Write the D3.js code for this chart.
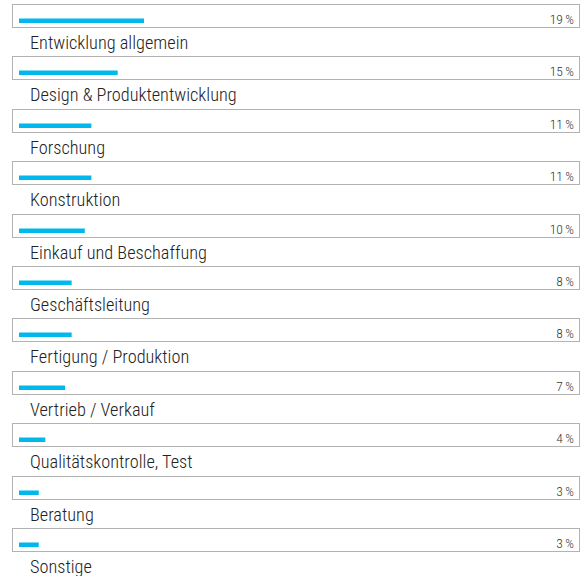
<!DOCTYPE html>
<html lang="de">
<head>
<meta charset="utf-8">
<title>Bereiche</title>
<script src="https://cdn.jsdelivr.net/npm/d3@7"></script>
<style>
  body { margin: 0; background: #fff; }
  text { font-family: "Roboto Condensed", Roboto, sans-serif; }
</style>
</head>
<body>
<script>
// data
var categories = ["Entwicklung allgemein", "Design & Produktentwicklung", "Forschung",
  "Konstruktion", "Einkauf und Beschaffung", "Geschäftsleitung", "Fertigung / Produktion",
  "Vertrieb / Verkauf", "Qualitätskontrolle, Test", "Beratung", "Sonstige"];
var values = [19, 15, 11, 11, 10, 8, 8, 7, 4, 3, 3];

var w = 585, h = 576;
var boxLeft = 12.5, boxRight = 579.5, boxH = 23;

var svg = d3.select("body").append("svg")
  .attr("width", w)
  .attr("height", h);

// one row per category
var yScale = d3.scaleBand()
  .domain(categories)
  .range([4, 4 + 52.4 * categories.length])
  .paddingInner(0).paddingOuter(0);

var xScale = d3.scaleLinear()
  .domain([0, 19])
  .range([19, 144]);

var rows = svg.selectAll("g.row")
  .data(categories)
  .enter()
  .append("g")
  .attr("class", "row")
  .attr("transform", function(d) { return "translate(0," + Math.round(yScale(d)) + ")"; });

rows.append("rect")
  .attr("x", boxLeft)
  .attr("y", 0.5)
  .attr("width", boxRight - boxLeft)
  .attr("height", boxH)
  .attr("fill", "none")
  .attr("stroke", "#b3b3b3")
  .attr("stroke-width", 1);

rows.append("rect")
  .attr("x", xScale(0))
  .attr("y", 14.5)
  .attr("height", 4.5)
  .attr("width", function(d, i) { return xScale(values[i]) - xScale(0); })
  .attr("fill", "#00b9ec");

rows.append("text")
  .attr("x", 574)
  .attr("y", 19.5)
  .attr("text-anchor", "end")
  .attr("font-size", "13.5px")
  .attr("font-weight", 300)
  .attr("fill", "#333")
  .text(function(d, i) { return values[i] + "\u2009%"; });

rows.append("text")
  .attr("x", 30)
  .attr("y", 45)
  .attr("font-size", "18.3px")
  .attr("font-weight", 300)
  .attr("fill", "#222")
  .text(function(d) { return d; });
</script>
</body>
</html>
